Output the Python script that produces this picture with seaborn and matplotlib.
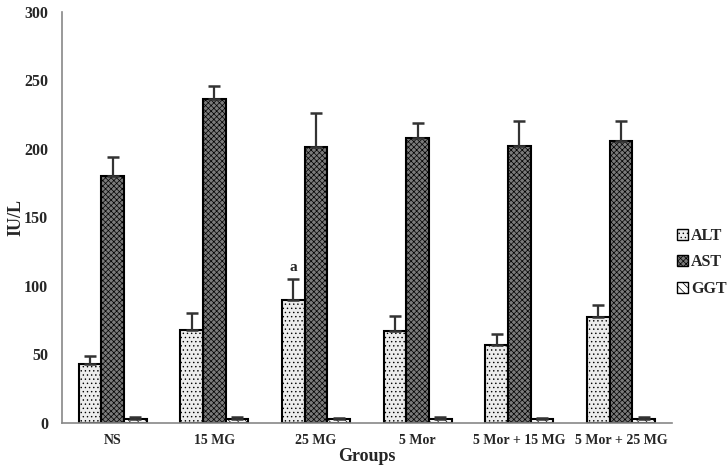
import numpy as np
import pandas as pd
import matplotlib.pyplot as plt
import seaborn as sns
from matplotlib.patches import Patch

sns.set_style("white")
plt.rcParams['font.family'] = ['Liberation Serif', 'DejaVu Serif']
plt.rcParams['font.weight'] = 'bold'
plt.rcParams['hatch.linewidth'] = 0.5

groups = ["NS", "15 MG", "25 MG", "5 Mor", "5 Mor + 15 MG", "5 Mor + 25 MG"]
enzymes = ["ALT", "AST", "GGT"]
alt = [43, 68, 90, 67, 57, 77]
ast = [180, 236, 201, 208, 202, 206]
ggt = [3, 3, 3, 3, 3, 3]
alt_err = [6, 12, 15, 11, 8, 9]
ast_err = [14, 10, 25, 11, 18, 14]
ggt_err = [1, 1, 0.5, 1, 0.5, 1]

df = pd.DataFrame({
    "group": groups * 3,
    "enzyme": [e for e in enzymes for _ in groups],
    "value": alt + ast + ggt,
})
errs = [alt_err, ast_err, ggt_err]

faces = ["#ececec", "#7a7a7a", "#ffffff"]
hatches = ["....", "xxxxxx", "\\\\\\\\"]

fig = plt.figure(figsize=(7.27, 4.71), dpi=100)
ax = fig.add_axes([0.085, 0.102, 0.839, 0.873])
sns.barplot(data=df, x="group", y="value", hue="enzyme", order=groups,
            hue_order=enzymes, palette=faces, width=0.67, gap=0,
            edgecolor="black", linewidth=1.5, errorbar=None, legend=False, ax=ax)

for cont, h, e in zip(ax.containers, hatches, errs):
    xs, ys = [], []
    for bar in cont:
        bar.set_hatch(h)
        xs.append(bar.get_x() + bar.get_width() / 2)
        ys.append(bar.get_height())
    ax.errorbar(xs, ys, yerr=[np.zeros(len(e)), e], fmt="none",
                ecolor="#333333", elinewidth=1.6, capsize=4, capthick=1.8)

# significance mark on 25 MG ALT
ax.text(2 - 0.67 / 3, alt[2] + alt_err[2] + 4, "a", ha="center", va="bottom",
        fontsize=11, fontweight="bold")

ax.set_ylim(0, 300)
ax.set_xlim(-0.5, 5.5)
ax.set_yticks(np.arange(0, 301, 50))
ax.set_xticks(range(len(groups)))
ax.set_xticklabels(groups, fontsize=10, fontweight="bold")
ax.set_xticks(np.arange(-0.5, 6, 1), minor=True)
ax.tick_params(axis="x", which="major", length=0, pad=8)
ax.tick_params(axis="x", which="minor", length=4, color="#888888", direction="out")
ax.tick_params(axis="y", length=4, color="#888888", direction="out", labelsize=11.5, pad=6)
for lab in ax.get_yticklabels():
    lab.set_fontweight("bold")
for s in ["top", "right"]:
    ax.spines[s].set_visible(False)
for s in ["left", "bottom"]:
    ax.spines[s].set_color("#888888")
    ax.spines[s].set_linewidth(1.2)

ax.set_xlabel("Groups", fontsize=13, fontweight="bold", labelpad=1)
ax.set_ylabel("IU/L", fontsize=13, fontweight="bold")
ax.yaxis.set_label_coords(-0.062, 0.5)

handles = [Patch(facecolor=f, edgecolor="black", hatch=h, label=n)
           for f, h, n in zip(faces, hatches, enzymes)]
fig.legend(handles=handles, loc="center left", bbox_to_anchor=(0.922, 0.443),
           frameon=False, fontsize=11.5, handlelength=0.7, handleheight=0.7,
           handletextpad=0.2, labelspacing=0.65, borderaxespad=0)

fig.savefig("out.png", dpi=100)
